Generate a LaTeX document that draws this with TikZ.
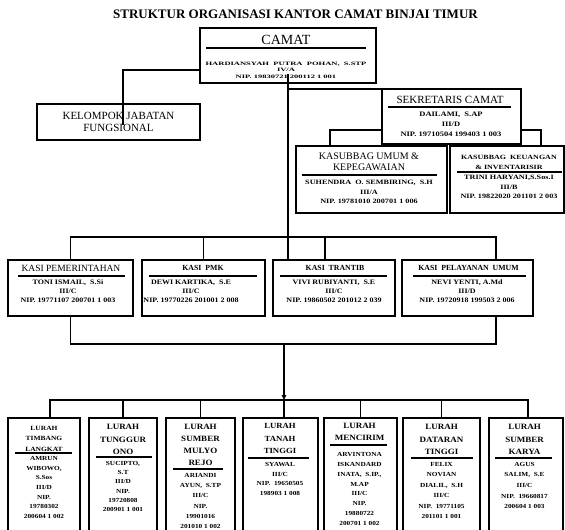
\documentclass[tikz,border=0pt]{standalone}
\usepackage{fontspec}
\setmainfont{Liberation Serif}
\usetikzlibrary{positioning,arrows.meta}
\newcommand{\fs}[2]{\fontsize{#1}{#2}\selectfont}

\begin{document}
\begin{tikzpicture}[x=1pt, y=-1pt, line width=1.1pt,
    box/.style={draw, line width=1.2pt, inner sep=0pt, outer sep=0pt, anchor=north west},
    ttl/.style={inner sep=0pt, align=center, yscale=#1}, ttl/.default=1,
    det/.style={inner sep=0pt, align=center, yscale=#1, font=\bfseries\fs{8}{10.6}}, det/.default=0.85]

\useasboundingbox (0,0) rectangle (565,530);

% judul
\node[ttl, font=\bfseries\fs{13}{15}] (judul) at (295.5,14) {STRUKTUR ORGANISASI KANTOR CAMAT BINJAI TIMUR};

% camat
\node[box, minimum width=176, minimum height=55] (camat) at (200,28) {};
\node[ttl, font=\fs{14}{16}] (camat-t) at (286,40) {CAMAT};
\draw (206,48) -- (366,48);
\node[det=0.6, font=\bfseries\fs{8.5}{10.8}] (camat-d) at (286,70) {HARDIANSYAH~~PUTRA~~POHAN,~~S.STP\\IV/A\\NIP.~19830721~200112~1~001};

% kelompok jabatan fungsional
\node[box, minimum width=163, minimum height=36, align=center, font=\fs{11}{12}] (kjf) at (37,104) {KELOMPOK JABATAN\\FUNGSIONAL};

% sekretaris
\node[box, minimum width=139, minimum height=55] (sek) at (382,89) {};
\node[ttl, font=\fs{11}{13}] (sek-t) at (450,100) {SEKRETARIS CAMAT};
\draw (388,107) -- (511,107);
\node[det=0.8, font=\bfseries\fs{8.5}{12.5}] (sek-d) at (451,123.8) {DAILAMI,~~S.AP\\III/D\\NIP.~19710504~199403~1~003};

% kasubbag
\node[box, minimum width=151, minimum height=67] (ks1) at (296,146) {};
\node[box, minimum width=114, minimum height=67, right=3pt of ks1] (ks2) {};
\node[ttl, font=\fs{10}{11}] (ks1-t) at (369,161.5) {KASUBBAG UMUM \&\\KEPEGAWAIAN};
\draw (302,175) -- (437,175);
\node[det=0.8, font=\bfseries\fs{8.2}{11.9}] (ks1-d) at (369,192) {SUHENDRA~~O.~SEMBIRING,~~S.H\\III/A\\NIP.~19781010~200701~1~006};
\node[ttl=0.8, font=\bfseries\fs{8}{12.5}] (ks2-t) at (509,162) {KASUBBAG~~KEUANGAN\\\&~INVENTARISIR};
\draw (457,172) -- (562,172);
\node[det=0.8, font=\bfseries\fs{8.2}{11.5}] (ks2-d) at (509,187) {TRINI HARYANI,S.Sos.I\\III/B\\NIP.~19822020~201101~2~003};

% kasi
\node[box, minimum width=125, minimum height=56] (k1) at (8,260) {};
\node[box, minimum width=123, minimum height=56, right=9pt of k1] (k2) {};
\node[box, minimum width=122, minimum height=56, right=8pt of k2] (k3) {};
\node[box, minimum width=131, minimum height=56, right=7pt of k3] (k4) {};
\node[ttl, font=\fs{9.5}{11}] (k1-t) at (71,268) {KASI PEMERINTAHAN};
\draw (18,276) -- (125,276);
\node[det] (k1-d) at (68,291.5) {TONI ISMAIL,~~S.Si\\III/C\\NIP.~19771107~200701~1~003};
\node[ttl, font=\bfseries\fs{7.8}{9}] (k2-t) at (203,268) {KASI~~PMK};
\draw (149,276) -- (257,276);
\node[det] (k2-d) at (191,291.5) {DEWI KARTIKA,~~S.E\\III/C\\NIP.~19770226~201001~2~008};
\node[ttl, font=\bfseries\fs{7.8}{9}] (k3-t) at (335,268) {KASI~~TRANTIB};
\draw (280,276) -- (387,276);
\node[det] (k3-d) at (334,291.5) {VIVI RUBIYANTI,~~S.E\\III/C\\NIP.~19860502~201012~2~039};
\node[ttl, font=\bfseries\fs{7.8}{9}] (k4-t) at (468.5,268) {KASI~~PELAYANAN~~UMUM};
\draw (413,276) -- (526,276);
\node[det] (k4-d) at (467,291.5) {NEVI YENTI,~A.Md\\III/D\\NIP.~19720918~199503~2~006};

% lurah
\node[box, minimum width=72, minimum height=120] (l1) at (8,418) {};
\node[box, minimum width=68, minimum height=120, right=9pt of l1] (l2) {};
\node[box, minimum width=69, minimum height=120, right=9pt of l2] (l3) {};
\node[box, minimum width=75, minimum height=120, right=8pt of l3] (l4) {};
\node[box, minimum width=73, minimum height=120, right=6pt of l4] (l5) {};
\node[box, minimum width=77, minimum height=120, right=6pt of l5] (l6) {};
\node[box, minimum width=74, minimum height=120, right=9pt of l6] (l7) {};

\node[ttl=0.85, font=\bfseries\fs{7.5}{12.4}] (l1-t) at (44,438.5) {LURAH\\TIMBANG\\LANGKAT};
\draw (15,453) -- (72,453);
\node[det, font=\bfseries\fs{7.3}{11.4}] (l1-d) at (44,487.5) {AMRUN\\WIBOWO,\\S.Sos\\III/D\\NIP.\\19780302\\200604~1~002};

\node[ttl=0.9, font=\bfseries\fs{9}{13.9}] (l2-t) at (123,439.5) {LURAH\\TUNGGUR\\ONO};
\draw (96,457) -- (152,457);
\node[det, font=\bfseries\fs{7.3}{10.8}] (l2-d) at (123,486.5) {SUCIPTO,\\S.T\\III/D\\NIP.\\19720808\\200901~1~001};

\node[ttl=0.9, font=\bfseries\fs{9}{13.3}] (l3-t) at (200.5,445) {LURAH\\SUMBER\\MULYO\\REJO};
\draw (173,469) -- (223,469);
\node[det, font=\bfseries\fs{7.3}{12}] (l3-d) at (200.5,501) {ARIANDI\\AYUN,~~S.TP\\III/C\\NIP.\\19901016\\201010~1~002};

\node[ttl=0.9, font=\bfseries\fs{8.7}{13.9}] (l4-t) at (280,438.5) {LURAH\\TANAH\\TINGGI};
\draw (248,458) -- (309,458);
\node[det, font=\bfseries\fs{7.3}{11.4}] (l4-d) at (280,479) {SYAWAL\\III/C\\NIP.~~19650505\\198903~1~008};

\node[ttl=0.9, font=\bfseries\fs{9}{13.3}] (l5-t) at (359.5,432) {LURAH\\MENCIRIM};
\draw (330,445) -- (387,445);
\node[det, font=\bfseries\fs{7.3}{11.6}] (l5-d) at (359.5,489) {ARVINTONA\\ISKANDARD\\INATA,~~S.IP.,\\M.AP\\III/C\\NIP.\\19880722\\200701~1~002};

\node[ttl=0.9, font=\bfseries\fs{9}{13.9}] (l6-t) at (441.5,439.5) {LURAH\\DATARAN\\TINGGI};
\draw (411,458) -- (473,458);
\node[det, font=\bfseries\fs{7.3}{12.2}] (l6-d) at (441.5,490.5) {FELIX\\NOVIAN\\DIALIL,~~S.H\\III/C\\NIP.~~19771105\\201101~1~001};

\node[ttl=0.9, font=\bfseries\fs{9}{13.9}] (l7-t) at (524.5,439.5) {LURAH\\SUMBER\\KARYA};
\draw (495,458) -- (552,458);
\node[det, font=\bfseries\fs{7.3}{12.4}] (l7-d) at (524.5,485.5) {AGUS\\SALIM,~~S.E\\III/C\\NIP.~~19660817\\200604~1~003};

% garis
\coordinate (cam-l) at (200,70);
\coordinate (kjf-in) at (123,125);
\coordinate (cam-b) at (288,74);
\coordinate (sek-l) at (382,130);
\coordinate (sek-r) at (521,130);
\coordinate (kbar) at (288,237);
\coordinate (join) at (284,344);
\coordinate (lbar) at (284,400);

\draw (cam-l) -| (kjf-in);
\draw (cam-b) -- (cam-b |- k3.north);
\draw (cam-b |- sek.north west) -- (sek.north west);
\draw (sek-l) -| ([xshift=34pt]ks1.north west);
\draw (sek-r) -| ([xshift=91pt]ks2.north west);

\draw (k1.north) |- (kbar) -| ([xshift=28.5pt]k4.north);
\draw (k2.north) |- (kbar);
\draw ([xshift=-9pt]k3.north) |- (kbar);

\draw (k1.south) |- (join) -| ([xshift=28.5pt]k4.south);
\draw[-{Triangle[length=5pt,width=4.5pt]}] (join) -- (lbar);

\draw ([xshift=6pt]l1.north) |- (lbar) -| ([xshift=2pt]l7.north);
\foreach \n in {l2,l3,l5,l6}
    \draw (\n.north) |- (lbar);
\draw ([xshift=3.5pt]l4.north) |- (lbar);

\end{tikzpicture}
\end{document}
